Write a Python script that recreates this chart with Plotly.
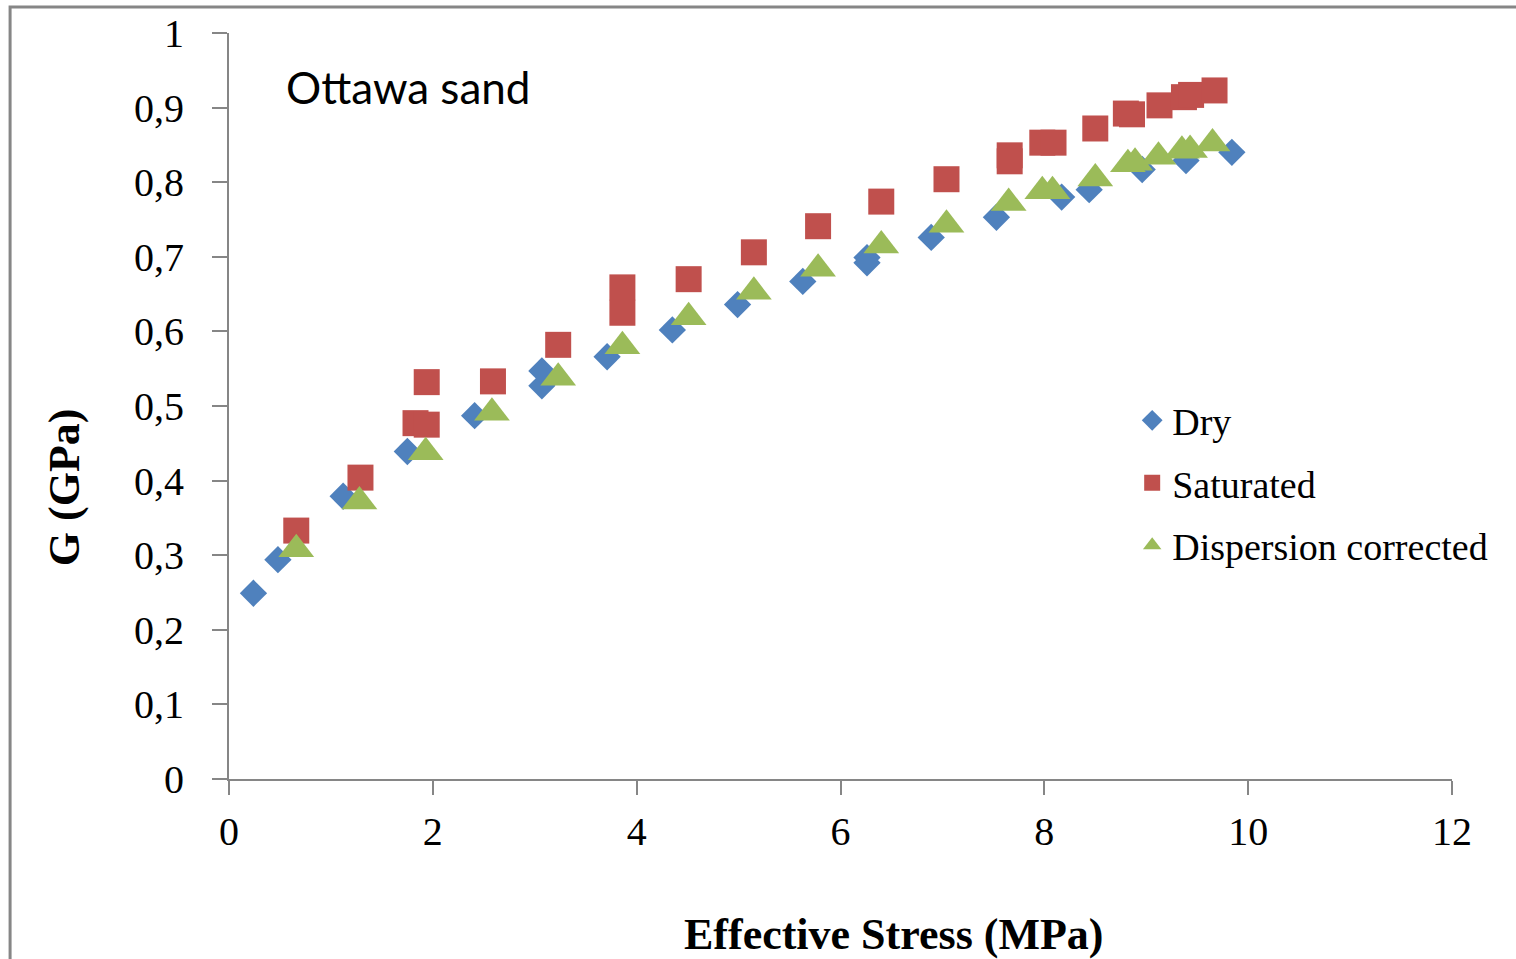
import plotly.graph_objects as go

# ---- data ----
dry_x = [0.24, 0.48, 1.12, 1.75, 2.41, 3.07, 3.07, 3.71, 4.35, 4.99, 5.63, 6.26, 6.26,
         6.89, 7.53, 8.17, 8.44, 8.96, 9.39, 9.84]
dry_y = [0.249, 0.294, 0.379, 0.439, 0.487, 0.527, 0.547, 0.566, 0.602, 0.636, 0.667,
         0.699, 0.692, 0.726, 0.753, 0.780, 0.790, 0.817, 0.829, 0.840]

sat_x = [0.66, 1.29, 1.83, 1.94, 1.94, 2.59, 3.23, 3.86, 3.86, 4.51, 5.15, 5.78, 6.40,
         7.04, 7.66, 7.66, 7.98, 8.09, 8.50, 8.80, 8.86, 9.13, 9.37, 9.44, 9.67]
sat_y = [0.333, 0.404, 0.477, 0.475, 0.532, 0.533, 0.582, 0.625, 0.659, 0.670, 0.706,
         0.741, 0.774, 0.804, 0.836, 0.828, 0.853, 0.853, 0.872, 0.892, 0.891, 0.903,
         0.914, 0.917, 0.923]

disp_x = [0.66, 1.28, 1.93, 2.58, 3.23, 3.86, 4.51, 5.15, 5.78, 6.40, 7.04, 7.65, 7.98,
          8.08, 8.50, 8.82, 8.89, 9.12, 9.35, 9.43, 9.65]
disp_y = [0.308, 0.372, 0.438, 0.491, 0.538, 0.580, 0.619, 0.653, 0.684, 0.715, 0.743,
          0.772, 0.788, 0.788, 0.805, 0.824, 0.826, 0.834, 0.842, 0.843, 0.852]

series_names = ["Dry", "Saturated", "Dispersion corrected"]
x_ticks = [0, 2, 4, 6, 8, 10, 12]
y_ticks = [0, 0.1, 0.2, 0.3, 0.4, 0.5, 0.6, 0.7, 0.8, 0.9, 1]

BLUE = "#4F81BD"
RED = "#C0504D"
GREEN = "#9BBB59"
GRAY = "#868686"
SERIF = "Liberation Serif, Times New Roman, serif"

fig = go.Figure()
fig.add_trace(go.Scatter(x=dry_x, y=dry_y, mode="markers", name=series_names[0],
                         legendgroup="a",
                         marker=dict(symbol="diamond", size=21, color=BLUE, line=dict(width=0))))
fig.add_trace(go.Scatter(x=sat_x, y=sat_y, mode="markers", name=series_names[1],
                         legendgroup="b",
                         marker=dict(symbol="square", size=26, color=RED, line=dict(width=0))))
fig.add_trace(go.Scatter(x=disp_x, y=disp_y, mode="markers", name=series_names[2],
                         legendgroup="c",
                         marker=dict(symbol="triangle-up", size=31, color=GREEN, line=dict(width=0))))

fig.update_layout(
    width=1516, height=959,
    margin=dict(l=229, r=64, t=33, b=180),
    paper_bgcolor="white", plot_bgcolor="white",
    separators=", ",
    font=dict(family=SERIF, size=40, color="black"),
    showlegend=True,
    legend=dict(x=0.7385, y=0.5226, xanchor="left", yanchor="top",
                bgcolor="rgba(0,0,0,0)", tracegroupgap=10,
                font=dict(family=SERIF, size=38, color="black")),
    xaxis=dict(range=[0, 12], tickvals=x_ticks, showgrid=False, zeroline=False,
               showline=True, linecolor=GRAY, linewidth=2,
               ticks="outside", ticklen=14, tickcolor=GRAY, tickwidth=1.5,
               tickfont=dict(family=SERIF, size=40), ticklabelstandoff=2),
    yaxis=dict(range=[0, 1], tickvals=y_ticks, showgrid=False, zeroline=False,
               showline=True, linecolor=GRAY, linewidth=2,
               ticks="outside", ticklen=15, tickcolor=GRAY, tickwidth=1.5,
               tickfont=dict(family=SERIF, size=40), ticklabelstandoff=20),
    shapes=[dict(type="rect", xref="paper", yref="paper",
                 x0=-0.179, x1=2, y0=-1, y1=1.0348,
                 line=dict(color=GRAY, width=3), fillcolor="rgba(0,0,0,0)", layer="below")],
    annotations=[
        dict(text="Ottawa sand", xref="paper", yref="paper", x=0.045, y=0.927,
             xanchor="left", yanchor="middle", showarrow=False,
             font=dict(family="Lato, Open Sans, sans-serif", size=44, color="black")),
        dict(text="<b>Effective Stress (MPa)</b>", xref="paper", yref="paper",
             x=0.543, y=-0.208, xanchor="center", yanchor="middle", showarrow=False,
             font=dict(family=SERIF, size=44, color="black")),
        dict(text="<b>G (GPa)</b>", xref="paper", yref="paper",
             x=-0.135, y=0.391, xanchor="center", yanchor="middle", showarrow=False,
             textangle=-90, font=dict(family=SERIF, size=44, color="black")),
    ],
)

fig.write_html("out.html")
